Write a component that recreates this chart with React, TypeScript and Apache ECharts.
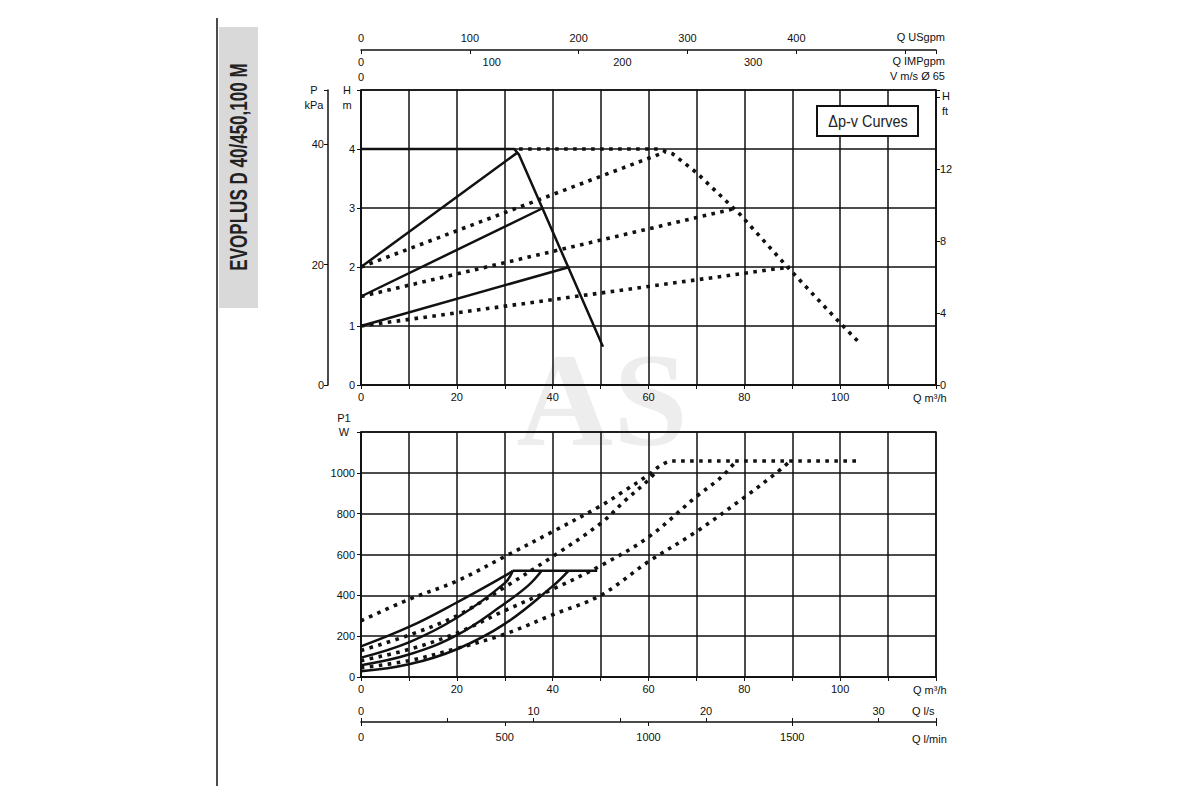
import React, { useEffect, useRef } from 'react';
import * as echarts from 'echarts';

// flow Q in m³/h, head H in m
const headMaxSolid: number[][] = [[0, 4], [32, 4], [33, 3.9], [50.5, 0.65]];
const headDpvSolid1: number[][] = [[0, 2], [32.5, 3.93]];
const headDpvSolid2: number[][] = [[0, 1.5], [38, 3]];
const headDpvSolid3: number[][] = [[0, 1], [43.5, 2]];
const headMaxDotted: number[][] = [[33, 4], [62, 4], [65, 3.92], [70, 3.6], [79, 2.9], [89, 2.0], [99.4, 1.1], [103.6, 0.75]];
const headDpvDotted1: number[][] = [[0, 2], [63.5, 3.95]];
const headDpvDotted2: number[][] = [[0, 1.5], [78.5, 3]];
const headDpvDotted3: number[][] = [[0, 1], [89.5, 2]];

// flow Q in m³/h, power P1 in W
const powerLimitSolid: number[][] = [[31.7, 520], [49.3, 520]];
const powerMaxSolid: number[][] = [[0, 150], [10, 245], [20, 365], [30, 495], [31.7, 520]];
const powerDpvSolid1: number[][] = [[0, 95], [10, 170], [20, 290], [30, 460], [31.7, 520]];
const powerDpvSolid2: number[][] = [[0, 58], [10, 110], [20, 205], [30, 360], [35, 450], [37.7, 520]];
const powerDpvSolid3: number[][] = [[0, 28], [10, 62], [20, 136], [30, 260], [40, 445], [43.3, 520]];
const powerMaxDotted: number[][] = [[0, 275], [10, 380], [20, 470], [30, 590], [40, 712], [50, 838], [55, 912], [60, 990], [62.5, 1035], [65, 1058], [103.5, 1058]];
const powerDpvDotted1: number[][] = [[0, 130], [10, 205], [20, 300], [30, 440], [40, 590], [50, 752], [55, 862], [60, 965], [61.5, 1005]];
const powerDpvDotted2: number[][] = [[0, 80], [10, 135], [20, 215], [30, 325], [40, 430], [50, 545], [60, 685], [70, 884], [75, 975], [78.3, 1058]];
const powerDpvDotted3: number[][] = [[0, 45], [10, 80], [20, 140], [30, 210], [40, 305], [50, 400], [60, 565], [70, 712], [80, 880], [86.6, 998], [89.6, 1058]];

// axis ranges and unit factors
const qMax = 120;
const headMax = 5;
const powerMax = 1200;
const usgpmPerM3h = 4.4029;
const impgpmPerM3h = 3.6662;
const kpaPerM = 9.80665;
const ftPerM = 1 / 0.3048;

const FONT = '"Liberation Sans", Arial, sans-serif';
const INK = '#111';
const lbl = { fontFamily: FONT, fontSize: 11, color: '#111' };

const solid = { color: INK, width: 2.5 };
const dotted = { color: INK, width: 3.6, type: [3.6, 5.4] as number[], cap: 'butt' as const };

const App: React.FC = () => {
  const chartRef = useRef<HTMLDivElement>(null);

  useEffect(() => {
    if (!chartRef.current) return;
    const chart = echarts.init(chartRef.current, undefined, { renderer: 'svg' });

    const axisLine = { show: true, onZero: false, lineStyle: { color: INK, width: 1.5 } };
    const noLine = { show: false, onZero: false };
    const tick = { show: true, length: 4, lineStyle: { color: INK, width: 1 } };
    const split = { show: true, lineStyle: { color: INK, width: 1.5 } };
    const qLabel = (v: number) => (v % 20 === 0 && v <= 100 ? String(v) : '');

    const line = (data: number[][], style: any, grid: number, smooth: number | boolean = false) => ({
      type: 'line',
      data,
      xAxisIndex: grid === 0 ? 0 : 3,
      yAxisIndex: grid === 0 ? 0 : 3,
      showSymbol: false,
      symbol: 'none',
      smooth,
      lineStyle: style,
      silent: true,
      z: style.type ? 3 : 4,
    });

    const text = (x: number, y: number, t: string, align = 'left', size = 11) => ({
      type: 'text',
      x,
      y,
      style: { text: t, fontFamily: FONT, fontSize: size, fill: '#111', align, verticalAlign: 'middle' },
    });

    const option: any = {
      animation: false,
      backgroundColor: '#fff',
      grid: [
        { left: 361, top: 90, width: 575, height: 295, show: true, borderColor: INK, borderWidth: 1.5 },
        { left: 361, top: 432, width: 575, height: 245, show: true, borderColor: INK, borderWidth: 1.5 },
      ],
      xAxis: [
        {
          gridIndex: 0, type: 'value', min: 0, max: qMax, interval: 10, position: 'bottom',
          axisLine, axisTick: tick, splitLine: split,
          axisLabel: { ...lbl, margin: 6, formatter: qLabel },
        },
        {
          gridIndex: 0, type: 'value', min: 0, max: qMax * usgpmPerM3h, interval: 100, position: 'top', offset: 40,
          axisLine, axisTick: { ...tick, inside: true }, splitLine: { show: false },
          axisLabel: { ...lbl, margin: 7, formatter: (v: number) => (v <= 400 ? String(v) : '') },
        },
        {
          gridIndex: 0, type: 'value', min: 0, max: qMax * impgpmPerM3h, interval: 100, position: 'top', offset: 40,
          axisLine: noLine, axisTick: { show: false }, splitLine: { show: false },
          axisLabel: { ...lbl, inside: true, margin: 6, formatter: (v: number) => (v <= 300 ? String(v) : '') },
        },
        {
          gridIndex: 1, type: 'value', min: 0, max: qMax, interval: 10, position: 'bottom',
          axisLine, axisTick: tick, splitLine: split,
          axisLabel: { ...lbl, margin: 6, formatter: qLabel },
        },
        {
          gridIndex: 1, type: 'value', min: 0, max: qMax / 3.6, interval: 5, position: 'bottom', offset: 45,
          axisLine, axisTick: { ...tick, inside: true }, splitLine: { show: false },
          axisLabel: { ...lbl, inside: true, margin: 6, formatter: (v: number) => (v % 10 === 0 && v <= 30 ? String(v) : '') },
        },
        {
          gridIndex: 1, type: 'value', min: 0, max: qMax / 0.06, interval: 500, position: 'bottom', offset: 45,
          axisLine: noLine, axisTick: tick, splitLine: { show: false },
          axisLabel: { ...lbl, margin: 9, formatter: (v: number) => (v <= 1500 ? String(v) : '') },
        },
      ],
      yAxis: [
        {
          gridIndex: 0, type: 'value', min: 0, max: headMax, interval: 1, position: 'left',
          axisLine, axisTick: tick, splitLine: split,
          axisLabel: { ...lbl, margin: 6, formatter: (v: number) => (v < headMax ? String(v) : '') },
        },
        {
          gridIndex: 0, type: 'value', min: 0, max: headMax * kpaPerM, interval: 20, position: 'left', offset: 33,
          axisLine, axisTick: tick, splitLine: { show: false },
          axisLabel: { ...lbl, margin: 4, formatter: (v: number) => (v % 20 === 0 ? String(v) : '') },
        },
        {
          gridIndex: 0, type: 'value', min: 0, max: headMax * ftPerM, interval: 4, position: 'right',
          axisLine, axisTick: tick, splitLine: { show: false },
          axisLabel: { ...lbl, margin: 4, formatter: (v: number) => (v <= 12 ? String(v) : '') },
        },
        {
          gridIndex: 1, type: 'value', min: 0, max: powerMax, interval: 200, position: 'left',
          axisLine, axisTick: tick, splitLine: split,
          axisLabel: { ...lbl, margin: 6, formatter: (v: number) => (v < powerMax ? String(v) : '') },
        },
      ],
      series: [
        line(headMaxDotted, dotted, 0),
        line(headDpvDotted1, dotted, 0),
        line(headDpvDotted2, dotted, 0),
        line(headDpvDotted3, dotted, 0),
        line(headMaxSolid, solid, 0),
        line(headDpvSolid1, solid, 0),
        line(headDpvSolid2, solid, 0),
        line(headDpvSolid3, solid, 0),
        line(powerMaxDotted, dotted, 1, 0.35),
        line(powerDpvDotted1, dotted, 1, 0.35),
        line(powerDpvDotted2, dotted, 1, 0.35),
        line(powerDpvDotted3, dotted, 1, 0.35),
        line(powerLimitSolid, solid, 1),
        line(powerMaxSolid, solid, 1, 0.4),
        line(powerDpvSolid1, solid, 1, 0.4),
        line(powerDpvSolid2, solid, 1, 0.4),
        line(powerDpvSolid3, solid, 1, 0.4),
      ],
      graphic: [
        {
          type: 'text', x: 602, y: 400, z: -1, silent: true,
          style: { text: 'AS', fontFamily: '"Liberation Serif", serif', fontWeight: 'bold', fontSize: 134, fill: 'rgba(0,0,0,0.07)', align: 'center', verticalAlign: 'middle' },
        },
        { type: 'line', shape: { x1: 217, y1: 18, x2: 217, y2: 786 }, style: { stroke: INK, lineWidth: 1.5 } },
        { type: 'rect', shape: { x: 219, y: 27, width: 39, height: 281 }, style: { fill: '#d9d9d9' } },
        {
          type: 'text', x: 238, y: 167, rotation: Math.PI / 2, scaleX: 0.71,
          style: { text: 'EVOPLUS D 40/450,100 M', fontFamily: FONT, fontWeight: 'bold', fontSize: 24, fill: '#222', align: 'center', verticalAlign: 'middle' },
        },
        { type: 'rect', shape: { x: 817, y: 106, width: 101, height: 30 }, style: { fill: '#fff', stroke: INK, lineWidth: 2 }, z: 10 },
        {
          type: 'text', x: 868, y: 121, scaleX: 0.85, z: 11,
          style: { text: 'Δp-v Curves', fontFamily: FONT, fontSize: 17, fill: '#222', align: 'center', verticalAlign: 'middle' },
        },
        text(314, 90, 'P', 'center'),
        text(314, 105, 'kPa', 'center'),
        text(347, 90, 'H', 'center'),
        text(347, 105, 'm', 'center'),
        text(942, 96, 'H', 'left'),
        text(942, 111, 'ft', 'left'),
        text(344, 418, 'P1', 'center'),
        text(344, 432, 'W', 'center'),
        text(945, 37, 'Q USgpm', 'right'),
        text(945, 61, 'Q IMPgpm', 'right'),
        text(945, 76, 'V m/s Ø 65', 'right'),
        text(361, 77, '0', 'center'),
        text(913, 398, 'Q m³/h', 'left'),
        text(913, 690, 'Q m³/h', 'left'),
        text(912, 711, 'Q l/s', 'left'),
        text(912, 739, 'Q l/min', 'left'),
      ],
    };

    chart.setOption(option);

    return () => {
      chart.dispose();
    };
  }, []);

  return (
    <div style={{ position: 'fixed', left: 0, top: 0, width: 1200, height: 800, background: '#fff' }}>
      <div ref={chartRef} style={{ width: 1200, height: 800 }} />
    </div>
  );
};

export default App;
